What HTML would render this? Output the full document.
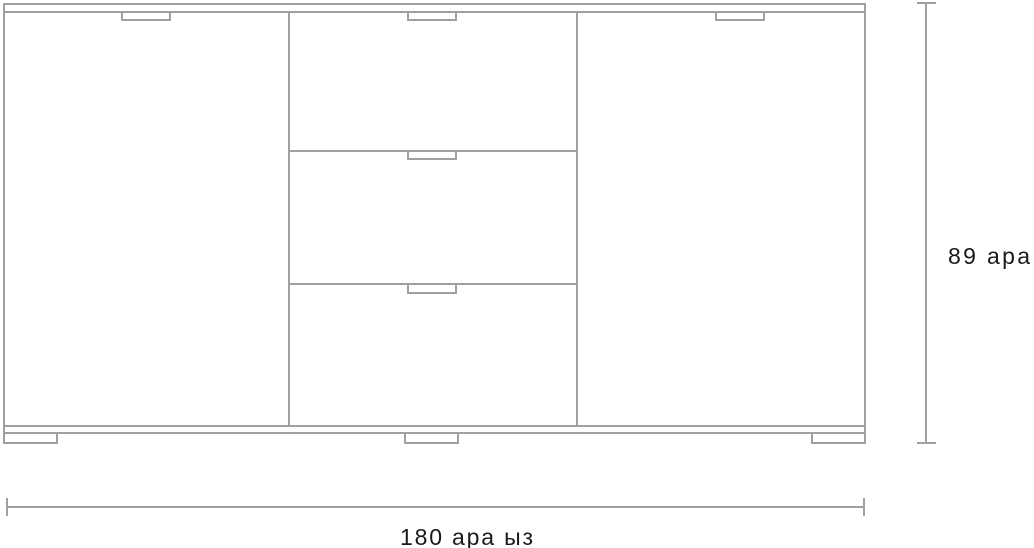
<!DOCTYPE html>
<html><head><style>
html,body{margin:0;padding:0;background:#fff;}
svg{display:block;}
text{font-family:"Liberation Sans",sans-serif;fill:#1a1a1a;font-size:23px;}
</style></head><body>
<svg width="1034" height="548" viewBox="0 0 1034 548" xmlns="http://www.w3.org/2000/svg">
<g fill="none" stroke="#a0a0a0" stroke-width="2">
<rect x="4" y="4" width="861" height="429"/>
<line x1="4" y1="12" x2="865" y2="12"/>
<line x1="4" y1="426" x2="865" y2="426"/>
<line x1="289" y1="12" x2="289" y2="426"/>
<line x1="577" y1="12" x2="577" y2="426"/>
<line x1="289" y1="151" x2="577" y2="151"/>
<line x1="289" y1="284" x2="577" y2="284"/>
<rect x="122" y="12" width="48" height="8"/>
<rect x="408" y="12" width="48" height="8"/>
<rect x="716" y="12" width="48" height="8"/>
<rect x="408" y="151" width="48" height="8"/>
<rect x="408" y="284" width="48" height="9"/>
<rect x="4" y="433" width="53" height="10"/>
<rect x="405" y="433" width="53" height="10"/>
<rect x="812" y="433" width="53" height="10"/>
<line x1="926" y1="3" x2="926" y2="443"/>
<line x1="917" y1="3" x2="936" y2="3"/>
<line x1="917" y1="443" x2="936" y2="443"/>
<line x1="7" y1="507" x2="864" y2="507"/>
<line x1="7" y1="498" x2="7" y2="516"/>
<line x1="864" y1="498" x2="864" y2="516"/>
</g>
<text x="948" y="264" textLength="82" lengthAdjust="spacing">89  ара</text>
<text x="400" y="545" textLength="133" lengthAdjust="spacing">180  ара ыз</text>
</svg>
</body></html>
